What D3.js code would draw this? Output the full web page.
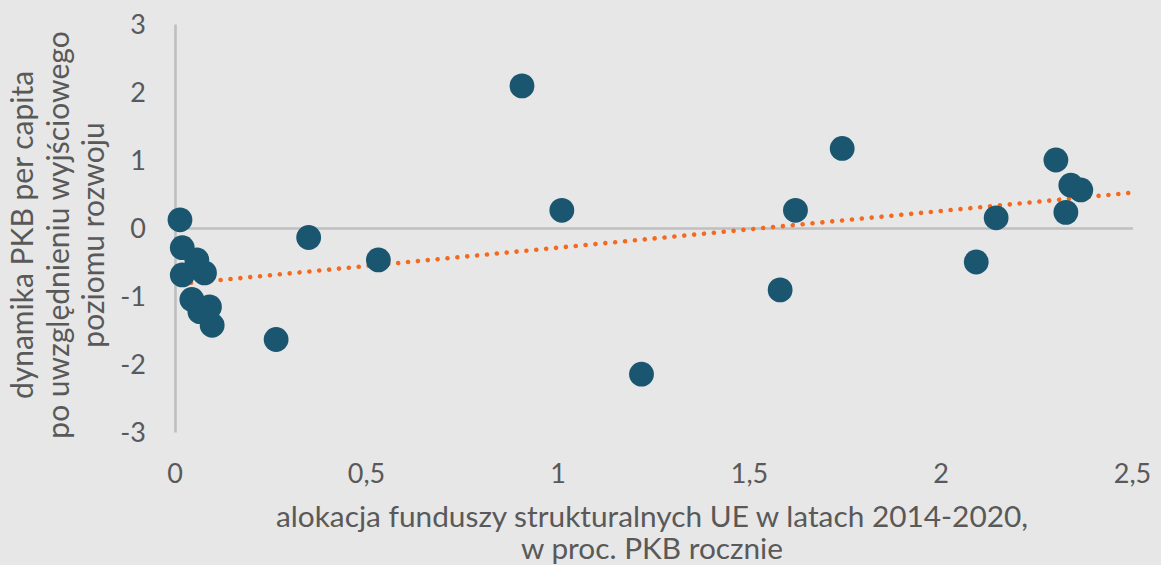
<!DOCTYPE html>
<html>
<head>
<meta charset="utf-8">
<script src="https://cdn.jsdelivr.net/npm/d3@7"></script>
<style>
  html, body { margin: 0; padding: 0; background: #e7e7e7; }
  svg { display: block; font-family: Lato, "Open Sans", sans-serif; }
</style>
</head>
<body>
<svg id="chart" width="1161" height="565"></svg>
<script>
// alokacja funduszy (x) i dynamika PKB (y)
const allocation = [0.013, 0.019, 0.057, 0.019, 0.077, 0.044, 0.090, 0.065, 0.097,
                    0.349, 0.264, 0.531, 0.906, 1.010, 1.218, 1.580, 1.620, 1.742,
                    2.092, 2.144, 2.300, 2.339, 2.365, 2.326];
const growth = [0.12, -0.29, -0.47, -0.69, -0.66, -1.05, -1.16, -1.23, -1.43,
                -0.14, -1.64, -0.47, 2.09, 0.26, -2.15, -0.91, 0.26, 1.17,
                -0.50, 0.15, 1.00, 0.63, 0.56, 0.23];
// linia trendu: końce
const trendX = [0.016, 2.5];
const trendY = [-0.82, 0.52];
const xTicks = [0, 0.5, 1, 1.5, 2, 2.5];
const yTicks = [-3, -2, -1, 0, 1, 2, 3];
const xTitle = ["alokacja funduszy strukturalnych UE w latach 2014-2020,", "w proc. PKB rocznie"];
const yTitle = ["dynamika PKB per capita", "po uwzględnieniu wyjściowego", "poziomu rozwoju"];

const svg = d3.select("#chart");
const textColor = "#595959";

const x = d3.scaleLinear().domain([0, 2.5]).range([175, 1132.5]);
const y = d3.scaleLinear().domain([-3, 3]).range([432, 24]);

// osie przechodzące przez zero
const xAxis = svg.append("g")
    .attr("transform", "translate(0," + y(0) + ")")
    .call(d3.axisBottom(x).tickValues(xTicks).tickSize(0).tickFormat(""));
xAxis.select(".domain").attr("stroke", "#bfbfbf").attr("stroke-width", 2.6);

const yAxis = svg.append("g")
    .attr("transform", "translate(" + x(0) + ",0)")
    .call(d3.axisLeft(y).tickValues(yTicks).tickSize(0).tickFormat(""));
yAxis.select(".domain").attr("stroke", "#bfbfbf").attr("stroke-width", 2.6);

const fmt = d => String(d).replace(".", ",");

svg.append("g").selectAll("text")
  .data(xTicks)
  .join("text")
    .attr("x", d => x(d))
    .attr("y", 482.5)
    .attr("text-anchor", "middle")
    .attr("font-size", 27)
    .attr("fill", textColor)
    .text(fmt);

svg.append("g").selectAll("text")
  .data(yTicks)
  .join("text")
    .attr("x", 146)
    .attr("y", d => y(d) + 9.5)
    .attr("text-anchor", "end")
    .attr("font-size", 27)
    .attr("fill", textColor)
    .text(fmt);

svg.append("path")
    .datum(d3.range(trendX.length))
    .attr("d", d3.line().x(i => x(trendX[i])).y(i => y(trendY[i])))
    .attr("fill", "none")
    .attr("stroke", "#f5691f")
    .attr("stroke-width", 4.6)
    .attr("stroke-linecap", "round")
    .attr("stroke-dasharray", "0.01 9.9");

svg.append("g").selectAll("circle")
  .data(d3.range(allocation.length))
  .join("circle")
    .attr("cx", i => x(allocation[i]))
    .attr("cy", i => y(growth[i]))
    .attr("r", 12.4)
    .attr("fill", "#1a566f");

// tytuły osi
svg.append("text")
    .attr("text-anchor", "middle")
    .attr("font-size", 29.8)
    .attr("fill", textColor)
  .selectAll("tspan")
  .data(xTitle)
  .join("tspan")
    .attr("x", 652)
    .attr("y", (d, i) => 526.5 + i * 32.5)
    .text(d => d);

svg.append("text")
    .attr("transform", "rotate(-90)")
    .attr("text-anchor", "middle")
    .attr("font-size", 30)
    .attr("fill", textColor)
  .selectAll("tspan")
  .data(yTitle)
  .join("tspan")
    .attr("x", -235)
    .attr("y", (d, i) => 33 + i * 35.5)
    .text(d => d);
</script>
</body>
</html>
